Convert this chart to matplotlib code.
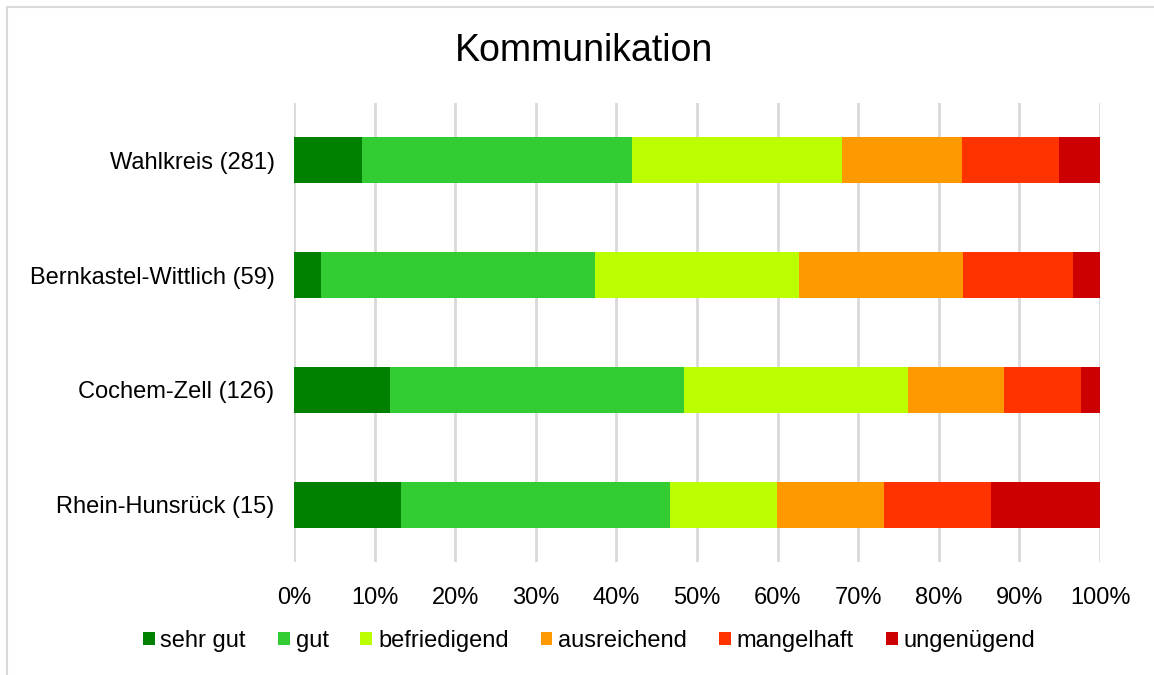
import numpy as np
import matplotlib.pyplot as plt
from matplotlib.lines import Line2D
from matplotlib.patches import Patch

plt.rcParams['font.family'] = ['Liberation Sans', 'DejaVu Sans']

regions = ["Wahlkreis (281)", "Bernkastel-Wittlich (59)", "Cochem-Zell (126)", "Rhein-Hunsrück (15)"]
grades = ["sehr gut", "gut", "befriedigend", "ausreichend", "mangelhaft", "ungenügend"]
colors = ["#007F00", "#33CC33", "#BBFF00", "#FF9900", "#FF3300", "#CC0000"]

# shares in percent per region (rows) and grade (columns)
sehr_gut = [8.4, 3.4, 11.9, 13.3]
gut = [33.5, 33.9, 36.5, 33.3]
befriedigend = [26.1, 25.4, 27.8, 13.3]
ausreichend = [14.9, 20.3, 11.9, 13.3]
mangelhaft = [12.0, 13.6, 9.5, 13.3]
ungenuegend = [5.1, 3.4, 2.4, 13.5]
series = [sehr_gut, gut, befriedigend, ausreichend, mangelhaft, ungenuegend]

W, H = 1154, 675
fig = plt.figure(figsize=(W / 100, H / 100), dpi=100)
ax = fig.add_axes([294 / W, 1 - 562 / H, 806 / W, 459 / H])

y = np.arange(len(regions))
left = np.zeros(len(regions))
for vals, name, c in zip(series, grades, colors):
    ax.barh(y, vals, left=left, height=0.4, color=c, label=name, zorder=3)
    left += np.array(vals)

ax.set_xlim(0, 100)
ax.set_ylim(len(regions) - 0.5, -0.5)
ax.set_yticks(y)
ax.set_yticklabels(regions, fontsize=17)
ax.set_xticks(np.arange(0, 101, 10))
ax.set_xticklabels([f"{v}%" for v in range(0, 101, 10)], fontsize=17)
ax.tick_params(axis='both', length=0)
ax.tick_params(axis='x', pad=18)
ax.tick_params(axis='y', pad=14)
ax.grid(axis='x', color='#D9D9D9', linewidth=2, zorder=0)
for s in ax.spines.values():
    s.set_visible(False)

fig.text(584 / W, 1 - 51 / H, "Kommunikation", fontsize=27, ha='center', va='center')

handles = [Patch(facecolor=c, edgecolor='none') for c in colors]
fig.legend(handles, grades, loc='center', bbox_to_anchor=(589 / W, 1 - 641 / H),
           ncol=6, frameon=False, fontsize=17, handlelength=0.5, handleheight=0.5,
           handletextpad=0.25, columnspacing=1.35)

# chart area border (left and top)
fig.add_artist(Line2D([7 / W, 7 / W], [0, 1 - 7 / H], color='#D9D9D9', linewidth=1.5))
fig.add_artist(Line2D([7 / W, 1], [1 - 7 / H, 1 - 7 / H], color='#D9D9D9', linewidth=1.5))

fig.savefig("out.png", dpi=100)
